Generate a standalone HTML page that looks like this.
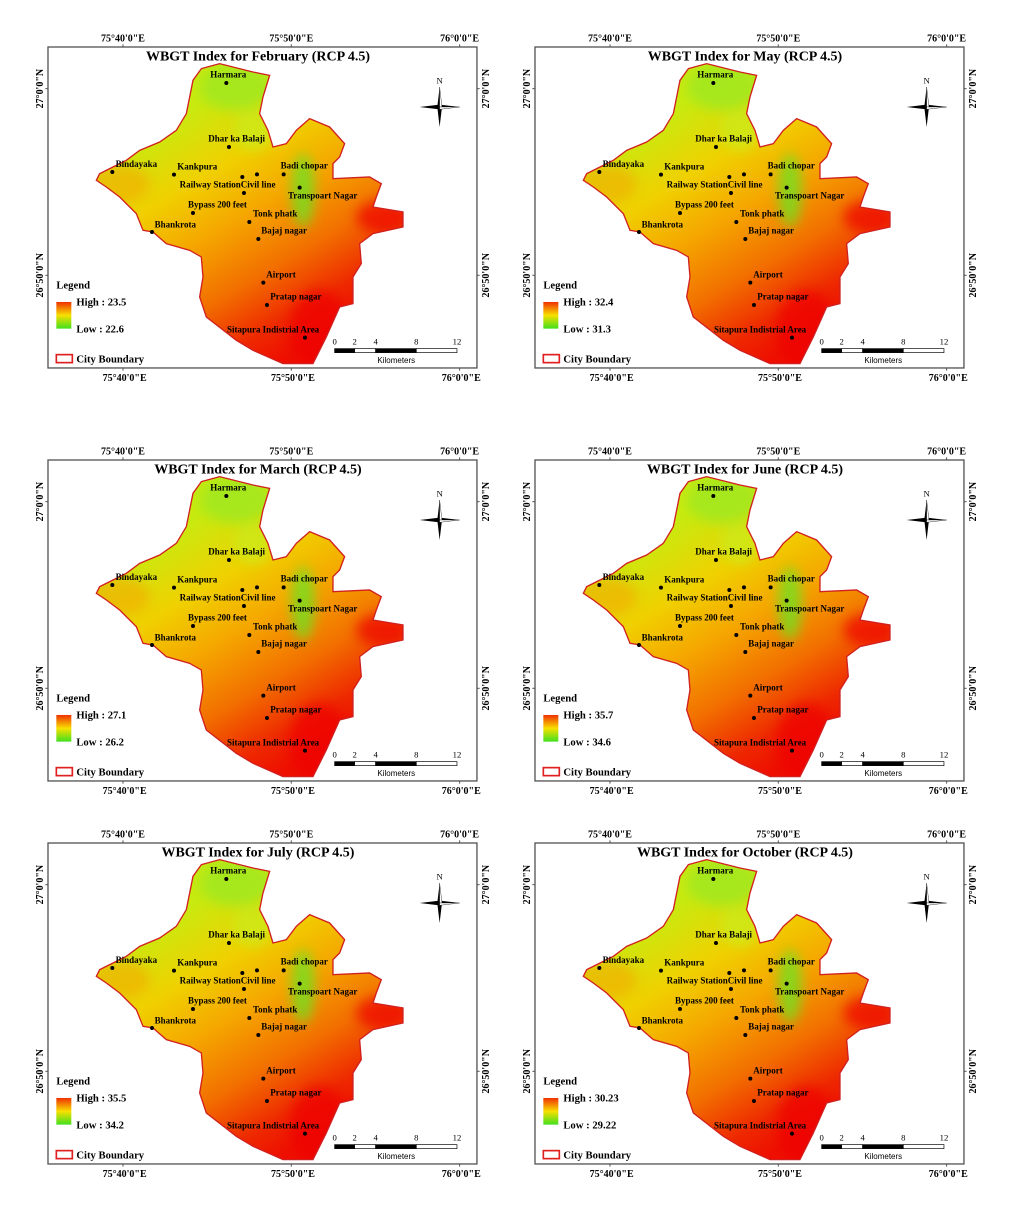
<!DOCTYPE html>
<html><head><meta charset="utf-8"><style>
html,body{margin:0;padding:0;background:#fff;}
svg{display:block;font-family:"Liberation Serif",serif;}
</style></head><body>
<svg id="root" width="1013" height="1212" viewBox="0 0 1013 1212">
<defs>
<linearGradient id="heat" gradientUnits="userSpaceOnUse" x1="600" y1="180" x2="1000" y2="860">
<stop offset="0" stop-color="#c8ea10"/><stop offset="0.25" stop-color="#f0d000"/><stop offset="0.45" stop-color="#f5a800"/><stop offset="0.68" stop-color="#f27000"/><stop offset="0.88" stop-color="#ee2800"/><stop offset="1" stop-color="#ee1000"/></linearGradient>
<linearGradient id="leg" x1="0" y1="0" x2="0" y2="1"><stop offset="0" stop-color="#f03000"/><stop offset="0.5" stop-color="#f8e000"/><stop offset="1" stop-color="#40e020"/></linearGradient>
<filter id="blur"><feGaussianBlur stdDeviation="18"/></filter>
</defs>
</svg>
<script>
const titles=["WBGT Index for February (RCP 4.5)","WBGT Index for May (RCP 4.5)","WBGT Index for March (RCP 4.5)","WBGT Index for June (RCP 4.5)","WBGT Index for July (RCP 4.5)","WBGT Index for October (RCP 4.5)"];
const highs=["23.5","32.4","27.1","35.7","35.5","30.23"];
const lows=["22.6","31.3","26.2","34.6","34.2","29.22"];
const frameX=[48,535,48,535,48,535];
const frameY=[47,47,460,460,843,843];
const places=[["Harmara",620,158,572,142],["Dhar ka Balaji",628,350,566,333],["Bindayaka",278,425,288,410],["Kankpura",463,433,473,417],["",668,440,0,0],["",712,432,0,0],["Badi chopar",792,432,783,415],["Railway StationCivil line",673,488,480,471],["Transpoart Nagar",840,472,805,505],["Bypass 200 feet",520,548,505,532],["Tonk phatk",689,575,700,558],["Bhankrota",397,605,405,592],["Bajaj nagar",716,626,725,609],["Airport",731,757,740,742],["Pratap nagar",742,824,752,808],["Sitapura Indistrial Area",856,922,622,906]];
const boundary="545,115 600,100 700,125 750,135 730,200 720,250 745,300 760,350 800,340 830,300 870,265 930,290 975,340 960,380 940,400 940,445 1050,440 1085,460 1070,500 1060,530 1150,545 1150,590 1060,610 1020,640 1025,700 1000,740 1000,820 960,830 920,920 880,1000 790,1000 700,960 650,930 560,860 540,800 550,740 545,680 510,660 440,640 400,605 370,600 350,550 300,500 260,470 230,450 240,430 280,410 320,390 360,360 420,335 470,300 500,250 510,200 520,150";
const NS="http://www.w3.org/2000/svg";
const root=document.getElementById('root');
function mk(tag,attrs,parent,txt){const e=document.createElementNS(NS,tag);for(const k in attrs)e.setAttribute(k,attrs[k]);if(txt!==undefined)e.textContent=txt;parent.appendChild(e);return e;}
titles.forEach((t,i)=>{
  const g=mk('g',{transform:`translate(${frameX[i]},${frameY[i]}) scale(0.3333) translate(-85,-50)`},root);
  
  
  mk('rect',{x:85,y:50,width:1287,height:963,fill:'#fff',stroke:'#555','stroke-width':4},g);
  const cp=mk('clipPath',{id:'cp'+i},g);mk('polygon',{points:boundary},cp);
  const fill=mk('g',{'clip-path':`url(#cp${i})`},g);
  
  
  mk('rect',{x:200,y:80,width:1000,height:950,fill:'url(#heat)'},fill);
  const blobs=mk('g',{filter:'url(#blur)'},fill);
  mk('ellipse',{cx:300,cy:460,rx:90,ry:60,fill:'#f5a800',opacity:0.6},blobs);
  mk('ellipse',{cx:650,cy:170,rx:110,ry:70,fill:'#a0e820',opacity:0.85},blobs);
  mk('ellipse',{cx:700,cy:300,rx:60,ry:60,fill:'#c8ec20',opacity:0.7},blobs);
  mk('ellipse',{cx:850,cy:480,rx:35,ry:110,fill:'#70e020',opacity:0.8},blobs);
  mk('ellipse',{cx:900,cy:900,rx:90,ry:120,fill:'#ee0000',opacity:0.7},blobs);
  mk('ellipse',{cx:1090,cy:560,rx:80,ry:50,fill:'#ee0000',opacity:0.7},blobs);
  mk('polygon',{points:boundary,fill:'none',stroke:'#d02020','stroke-width':4},g);
  const b=mk('text',{x:715,y:90,'font-size':42,'font-weight':'bold','text-anchor':'middle'},g,t);
  
  
  [["75°40'0\"E",310],["75°50'0\"E",815],["76°0'0\"E",1320]].forEach(([s,x])=>{
    mk('text',{x:x,y:33,'font-size':30,'font-weight':'bold','text-anchor':'middle'},g,s);
    mk('text',{x:x+5,y:1052,'font-size':30,'font-weight':'bold','text-anchor':'middle'},g,s);
    mk('line',{x1:x,y1:50,x2:x,y2:42,stroke:'#555','stroke-width':3},g);
    mk('line',{x1:x,y1:1013,x2:x,y2:1021,stroke:'#555','stroke-width':3},g);
  });
  [["27°0'0\"N",175],["26°50'0\"N",735]].forEach(([s,y])=>{
    mk('text',{transform:`translate(70,${y}) rotate(-90)`,'font-size':30,'font-weight':'bold','text-anchor':'middle'},g,s);
    mk('text',{transform:`translate(1408,${y}) rotate(-90)`,'font-size':30,'font-weight':'bold','text-anchor':'middle'},g,s);
    mk('line',{x1:85,y1:y,x2:77,y2:y,stroke:'#555','stroke-width':3},g);
    mk('line',{x1:1372,y1:y,x2:1380,y2:y,stroke:'#555','stroke-width':3},g);
  });
  places.forEach(p=>{
    const d=mk('circle',{cx:p[1],cy:p[2],r:6,fill:'#000'},g);
    
    
    if(p[0]){const l=mk('text',{x:p[3],y:p[4],'font-size':27,'font-weight':'bold'},g,p[0]);
    
    }
  });
  const lg=mk('g',{},g);
  
  
  mk('text',{x:110,y:775,'font-size':32,'font-weight':'bold'},lg,'Legend');
  mk('rect',{x:110,y:815,width:45,height:80,fill:'url(#leg)'},lg);
  mk('text',{x:170,y:826,'font-size':32,'font-weight':'bold'},lg,'High : '+highs[i]);
  mk('text',{x:170,y:906,'font-size':32,'font-weight':'bold'},lg,'Low : '+lows[i]);
  mk('rect',{x:110,y:973,width:48,height:24,fill:'#fff',stroke:'#e02020','stroke-width':5},lg);
  mk('text',{x:170,y:997,'font-size':32,'font-weight':'bold'},lg,'City Boundary');
  const sb=mk('g',{},g);
  
  
  [[945,1005,'#000'],[1005,1068,'#fff'],[1068,1190,'#000'],[1190,1312,'#fff']].forEach(s=>mk('rect',{x:s[0],y:955,width:s[1]-s[0],height:12,fill:s[2],stroke:'#000','stroke-width':2},sb));
  [["0",945],["2",1005],["4",1068],["8",1190],["12",1312]].forEach(([s,x])=>mk('text',{x:x,y:942,'font-size':26,'text-anchor':'middle'},sb,s));
  mk('text',{x:1130,y:998,'font-size':24,'text-anchor':'middle','font-family':'Liberation Sans,sans-serif'},sb,'Kilometers');
  const na=mk('g',{transform:'translate(1260,230)'},g);
  
  
  mk('polygon',{points:'0,-60 7,0 0,60 -7,0',fill:'#000'},na);
  mk('polygon',{points:'-60,0 0,-7 60,0 0,7',fill:'#000'},na);
  mk('polygon',{points:'0,-60 7,0 0,0',fill:'#fff',stroke:'#000','stroke-width':1},na);
  mk('polygon',{points:'60,0 0,7 0,0',fill:'#fff',stroke:'#000','stroke-width':1},na);
  mk('text',{x:0,y:-70,'font-size':26,'text-anchor':'middle'},na,'N');
});
</script>
</body></html>
